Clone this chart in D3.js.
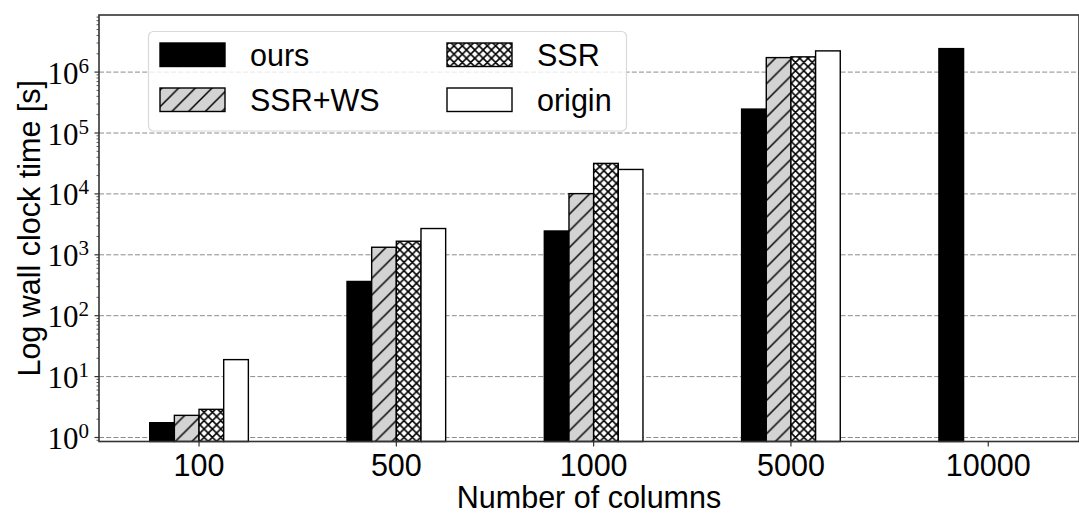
<!DOCTYPE html>
<html>
<head>
<meta charset="utf-8">
<script src="https://cdn.jsdelivr.net/npm/d3@7"></script>
<style>
  body { margin: 0; background: #fff; }
  svg { display: block; }
</style>
</head>
<body>
<div id="chart"></div>
<script>
// data
var categories = ['100', '500', '1000', '5000', '10000'];
var seriesNames = ['ours', 'SSR+WS', 'SSR', 'origin'];
var ours   = [1.75, 365, 2460, 247000, 2430000];
var ssrWs  = [2.31, 1330, 10100, 1730000, null];
var ssr    = [2.9, 1670, 31700, 1780000, null];
var origin = [19.0, 2700, 25200, 2230000, null];
var yTicks = [0, 1, 2, 3, 4, 5, 6]; // exponents

var allSeries = [ours, ssrWs, ssr, origin];

var width = 1079, height = 516;
var mLeft = 99, mRight = 1079, mTop = 15, mBottom = 441.5;

var svg = d3.select('#chart').append('svg')
    .attr('width', width)
    .attr('height', height);

var defs = svg.append('defs');

// hatch '/'
var p1 = defs.append('pattern').attr('id', 'hatchSlash')
    .attr('patternUnits', 'userSpaceOnUse')
    .attr('width', 16.67).attr('height', 16.67);
p1.append('rect').attr('width', 16.67).attr('height', 16.67).attr('fill', '#d3d3d3');
p1.append('path').attr('d', 'M-4,20.67 L20.67,-4 M-4,4 L4,-4 M12.67,20.67 L20.67,12.67')
    .attr('stroke', '#000').attr('stroke-width', 1.5);

// hatch 'xx'
var p2 = defs.append('pattern').attr('id', 'hatchCross')
    .attr('patternUnits', 'userSpaceOnUse')
    .attr('width', 8.33).attr('height', 8.33);
p2.append('rect').attr('width', 8.33).attr('height', 8.33).attr('fill', '#fff');
p2.append('path').attr('d', 'M0,0 L8.33,8.33 M0,8.33 L8.33,0 M-2,2 L2,-2 M6.33,10.33 L10.33,6.33 M-2,6.33 L2,10.33 M6.33,-2 L10.33,2')
    .attr('stroke', '#000').attr('stroke-width', 1.6);

var fills = ['#000', 'url(#hatchSlash)', 'url(#hatchCross)', '#fff'];

// SCALES
var x = d3.scaleLinear().domain([-0.507, 4.46]).range([mLeft, mRight]);
var unit = x(1) - x(0);
var barW = unit * 0.125;

var decade = 60.9;
var y0 = 437.5;
var y = d3.scaleLog()
    .domain([Math.pow(10, -(mBottom - y0) / decade), Math.pow(10, (y0 - mTop) / decade)])
    .range([mBottom, mTop]);

// GRID
svg.append('g').selectAll('line').data(yTicks).enter().append('line')
    .attr('x1', mLeft).attr('x2', mRight)
    .attr('y1', function (d) { return y(Math.pow(10, d)); })
    .attr('y2', function (d) { return y(Math.pow(10, d)); })
    .attr('stroke', '#8c8c8c')
    .attr('stroke-width', 1)
    .attr('stroke-dasharray', '5,2.2');

// BARS
var bars = svg.append('g');
allSeries.forEach(function (vals, s) {
    vals.forEach(function (v, i) {
        if (v == null) return;
        var x0 = x(i) + (s - 2) * barW;
        bars.append('rect')
            .attr('x', x0)
            .attr('y', y(v))
            .attr('width', barW)
            .attr('height', mBottom - y(v))
            .attr('fill', fills[s])
            .attr('stroke', '#000')
            .attr('stroke-width', 1.4);
    });
});

// Y AXIS ticks
var yAxis = svg.append('g');
yTicks.forEach(function (e) {
    var yy = y(Math.pow(10, e));
    yAxis.append('line').attr('x1', mLeft - 4.5).attr('x2', mLeft)
        .attr('y1', yy).attr('y2', yy).attr('stroke', '#333').attr('stroke-width', 1.2);
    var t = yAxis.append('text')
        .attr('x', 89).attr('y', yy + 11.5)
        .attr('text-anchor', 'end')
        .attr('font-family', '"Liberation Serif", "DejaVu Serif", serif')
        .attr('font-size', '31px')
        .attr('fill', '#000');
    t.append('tspan').text('10');
    t.append('tspan').attr('font-size', '21px').attr('dy', -11).text(e);
});
// minor ticks
var minor = [];
for (var e = -1; e <= 7; e++) {
    for (var m = 2; m <= 9; m++) {
        var v = m * Math.pow(10, e);
        if (v > y.domain()[0] && v < y.domain()[1]) minor.push(v);
    }
}
yAxis.selectAll('.minor').data(minor).enter().append('line')
    .attr('x1', mLeft - 2.5).attr('x2', mLeft)
    .attr('y1', function (d) { return y(d); })
    .attr('y2', function (d) { return y(d); })
    .attr('stroke', '#333').attr('stroke-width', 0.8);

// X AXIS
var xAxis = svg.append('g');
categories.forEach(function (c, i) {
    xAxis.append('line').attr('x1', x(i)).attr('x2', x(i))
        .attr('y1', mBottom).attr('y2', mBottom + 5)
        .attr('stroke', '#333').attr('stroke-width', 1.2);
    xAxis.append('text')
        .attr('x', x(i)).attr('y', mBottom + 34.5)
        .attr('text-anchor', 'middle')
        .attr('font-family', '"Liberation Sans", Arial, sans-serif')
        .attr('font-size', '30.5px')
        .attr('fill', '#000')
        .text(c);
});

// SPINES
svg.append('rect')
    .attr('x', mLeft).attr('y', mTop)
    .attr('width', mRight - mLeft).attr('height', mBottom - mTop)
    .attr('fill', 'none').attr('stroke', '#333').attr('stroke-width', 1.6);

// AXIS LABELS
svg.append('text')
    .attr('transform', 'translate(40,' + (mTop + mBottom) / 2 + ') rotate(-90)')
    .attr('text-anchor', 'middle')
    .attr('font-family', '"Liberation Sans", Arial, sans-serif')
    .attr('font-size', '30.5px')
    .attr('fill', '#000')
    .text('Log wall clock time [s]');

svg.append('text')
    .attr('x', (mLeft + mRight) / 2).attr('y', 508)
    .attr('text-anchor', 'middle')
    .attr('font-family', '"Liberation Sans", Arial, sans-serif')
    .attr('font-size', '30.5px')
    .attr('fill', '#000')
    .text('Number of columns');

// LEGEND
var lg = svg.append('g');
lg.append('rect')
    .attr('x', 148.5).attr('y', 31.5).attr('width', 478).attr('height', 99.5)
    .attr('rx', 5).attr('ry', 5)
    .attr('fill', '#fff').attr('fill-opacity', 0.8)
    .attr('stroke', '#d9d9d9').attr('stroke-width', 1.2);

seriesNames.forEach(function (name, s) {
    var col = s < 2 ? 0 : 1;
    var row = s % 2;
    var hx = col === 0 ? 160 : 447;
    var hy = row === 0 ? 43 : 88;
    lg.append('rect')
        .attr('x', hx).attr('y', hy).attr('width', 65).attr('height', 23.5)
        .attr('fill', fills[s]).attr('stroke', '#000').attr('stroke-width', 1.4);
    lg.append('text')
        .attr('x', hx + 90).attr('y', hy + 23)
        .attr('font-family', '"Liberation Sans", Arial, sans-serif')
        .attr('font-size', '30.5px')
        .attr('fill', '#000')
        .text(name);
});
</script>
</body>
</html>
